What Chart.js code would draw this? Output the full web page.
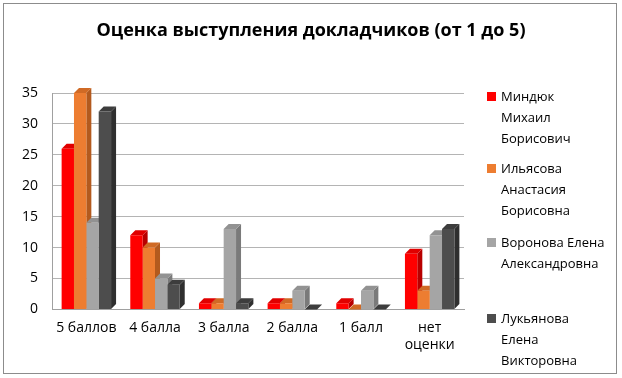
<!DOCTYPE html>
<html>
<head>
<meta charset="utf-8">
<script src="https://cdn.jsdelivr.net/npm/chart.js@4"></script>
<style>
  html, body { margin: 0; padding: 0; background: #fff; }
  #wrap { position: relative; width: 622px; height: 378px; }
  #frame { position: absolute; left: 3px; top: 3px; width: 614px; height: 371px; border: 1px solid #8c8c8c; box-sizing: border-box; }
  #title { position: absolute; left: 0; top: 17px; width: 622px; text-align: center; font-family: "Open Sans", sans-serif; font-weight: bold; font-size: 18px; line-height: 24px; color: #000; }
  #legend { position: absolute; left: 487px; top: 86px; font-family: "Open Sans", sans-serif; font-size: 13px; line-height: 21px; color: #000; }
  .item { position: absolute; left: 0; white-space: nowrap; }
  .item span.box { position: absolute; left: 0; top: 6px; width: 9px; height: 9px; }
  .item div { padding-left: 14px; }
</style>
</head>
<body>
<div id="wrap">
  <canvas id="c" width="622" height="378"></canvas>
  <div id="frame"></div>
  <div id="title">Оценка выступления докладчиков (от 1 до 5)</div>
  <div id="legend"></div>
</div>
<script>
const categories = ["5 баллов", "4 балла", "3 балла", "2 балла", "1 балл", ["нет", "оценки"]];
const seriesNames = [
  ["Миндюк", "Михаил", "Борисович"],
  ["Ильясова", "Анастасия", "Борисовна"],
  ["Воронова Елена", "Александровна"],
  ["Лукьянова", "Елена", "Викторовна"]
];
const mindyuk = [26, 12, 1, 1, 1, 9];
const ilyasova = [35, 10, 1, 1, 0, 3];
const voronova = [14, 5, 13, 3, 3, 12];
const lukyanova = [32, 4, 1, 0, 0, 13];

const fronts = ["#ff0000", "#ed7d31", "#a5a5a5", "#4d4d4d"];
const sides = ["#b80000", "#b35a1e", "#7a7a7a", "#2f2f2f"];
const tops = ["#e00000", "#d06a25", "#929292", "#3d3d3d"];
const legendTops = [0, 72, 146, 222];

// legend as html
const legend = document.getElementById("legend");
seriesNames.forEach((lines, i) => {
  const el = document.createElement("div");
  el.className = "item";
  el.style.top = legendTops[i] + "px";
  el.innerHTML = '<span class="box" style="background:' + fronts[i] + '"></span>' +
    lines.map(l => "<div>" + l + "</div>").join("");
  legend.appendChild(el);
});

const DX = 5, DY = 5;

// fake 3d: side and top faces, fronts are drawn by chart.js over them
const bars3d = {
  id: "bars3d",
  beforeDatasetsDraw(chart) {
    const ctx = chart.ctx;
    ctx.save();
    chart.data.datasets.forEach((ds, di) => {
      chart.getDatasetMeta(di).data.forEach(bar => {
        const l = bar.x - bar.width / 2, r = bar.x + bar.width / 2;
        const t = bar.y, b = bar.base;
        ctx.fillStyle = sides[di];
        ctx.beginPath();
        ctx.moveTo(r, t); ctx.lineTo(r + DX, t - DY); ctx.lineTo(r + DX, b - DY); ctx.lineTo(r, b);
        ctx.closePath(); ctx.fill();
        ctx.fillStyle = tops[di];
        ctx.beginPath();
        ctx.moveTo(l, t); ctx.lineTo(l + DX, t - DY); ctx.lineTo(r + DX, t - DY); ctx.lineTo(r, t);
        ctx.closePath(); ctx.fill();
      });
    });
    ctx.restore();
  }
};

const font = "'Open Sans', sans-serif";

new Chart(document.getElementById("c"), {
  type: "bar",
  data: {
    labels: categories,
    datasets: [mindyuk, ilyasova, voronova, lukyanova].map((d, i) => ({
      label: seriesNames[i].join(" "),
      data: d,
      backgroundColor: fronts[i],
      categoryPercentage: 0.72,
      barPercentage: 1
    }))
  },
  options: {
    responsive: false,
    animation: false,
    layout: { padding: { left: 8, right: 158, top: 93, bottom: 15 } },
    plugins: {
      legend: { display: false },
      tooltip: { enabled: false }
    },
    scales: {
      x: {
        grid: { display: false, drawTicks: false },
        border: { color: "#a0a0a0" },
        ticks: { color: "#000", font: { family: font, size: 14 }, padding: 10, maxRotation: 0, autoSkip: false }
      },
      y: {
        min: 0, max: 35,
        ticks: { stepSize: 5, color: "#000", font: { family: font, size: 14 }, padding: 14 },
        grid: { color: "#b4b4b4", drawTicks: false },
        border: { color: "#a0a0a0" }
      }
    }
  },
  plugins: [bars3d]
});
</script>
</body>
</html>
